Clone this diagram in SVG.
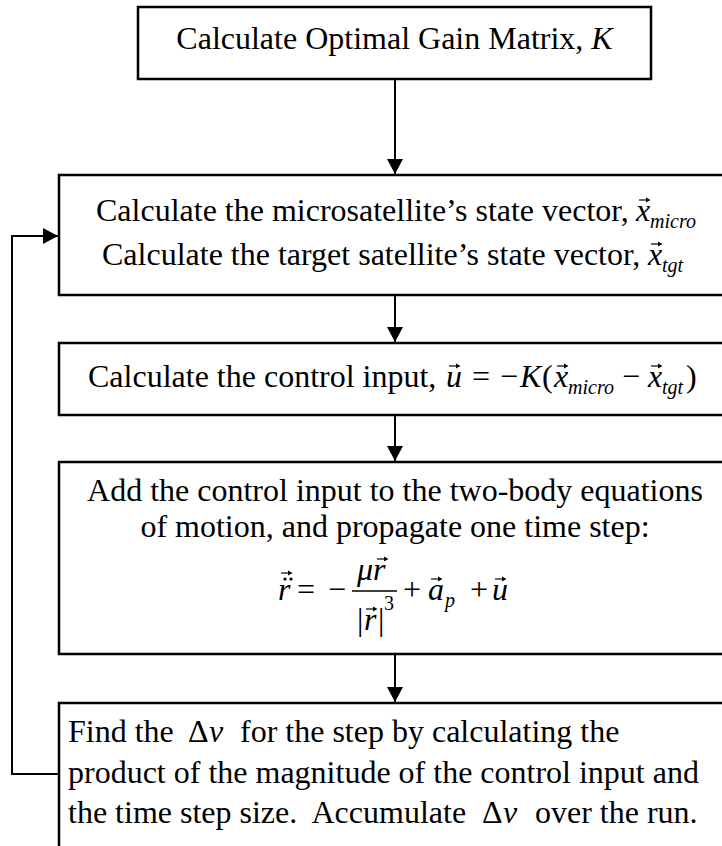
<svg xmlns="http://www.w3.org/2000/svg" xmlns:xlink="http://www.w3.org/1999/xlink" width="722" height="846" viewBox="0 0 722 846">
<style>
.box{fill:#fff;stroke:#000;stroke-width:2.5}
.t{font-family:"Liberation Serif","Times New Roman",serif;font-size:32px;fill:#000;white-space:pre}
.i{font-style:italic}
.s{font-size:20px}
.c{fill:none;stroke:#000;stroke-width:2}
</style>
<defs>
<marker id="ah" markerUnits="userSpaceOnUse" markerWidth="16" markerHeight="16" viewBox="0 0 16 16" refX="15" refY="8" orient="auto">
<path d="M0,0 L15,8 L0,16 z" fill="#000"/>
</marker>
<g id="vec"><path d="M0,0 H9" stroke="#000" stroke-width="1.2" fill="none"/><path d="M7,-2.6 L11.5,0 L7,2.6 z" fill="#000"/></g>
</defs>
<rect width="722" height="846" fill="#fff"/>

<g id="connectors">
<path class="c" d="M395,79 V174" marker-end="url(#ah)"/>
<path class="c" d="M395,295 V342" marker-end="url(#ah)"/>
<path class="c" d="M395,415 V461" marker-end="url(#ah)"/>
<path class="c" d="M395,654 V702" marker-end="url(#ah)"/>
<path class="c" d="M59,774 H12 V236 H58" marker-end="url(#ah)"/>
</g>

<g id="n1">
<rect class="box" x="138" y="7" width="513" height="72"/>
<text class="t" x="394.5" y="49" text-anchor="middle">Calculate Optimal Gain Matrix, <tspan class="i">K</tspan></text>
</g>

<g id="n2">
<rect class="box" x="59" y="175" width="680" height="120"/>
<text class="t" x="96" y="221">Calculate the microsatellite’s state vector,</text>
<text class="t i" x="636" y="221">x</text>
<use href="#vec" x="639" y="200"/>
<text class="t i s" x="650" y="228">micro</text>
<text class="t" x="102" y="265">Calculate the target satellite’s state vector,</text>
<text class="t i" x="648" y="265">x</text>
<use href="#vec" x="651" y="244"/>
<text class="t i s" x="662" y="272">tgt</text>
</g>

<g id="n3">
<rect class="box" x="59" y="343" width="680" height="72"/>
<text class="t" x="88" y="387">Calculate the control input,</text>
<text class="t i" x="446" y="387">u</text>
<use href="#vec" x="449" y="366"/>
<text class="t" x="472" y="387">=</text>
<text class="t" x="500" y="387">−</text>
<text class="t i" x="520" y="387">K</text>
<text class="t" x="542" y="387">(</text>
<text class="t i" x="554" y="387">x</text>
<use href="#vec" x="557" y="366"/>
<text class="t i s" x="568" y="394">micro</text>
<text class="t" x="622" y="387">−</text>
<text class="t i" x="648" y="387">x</text>
<use href="#vec" x="651" y="366"/>
<text class="t i s" x="662" y="394">tgt</text>
<text class="t" x="686" y="387">)</text>
</g>

<g id="n4">
<rect class="box" x="59" y="462" width="680" height="192"/>
<text class="t" x="395" y="501" text-anchor="middle">Add the control input to the two-body equations</text>
<text class="t" x="395" y="537" text-anchor="middle">of motion, and propagate one time step:</text>
<text class="t i" x="278" y="600">r</text>
<circle cx="285" cy="579" r="1.6"/><circle cx="291" cy="579" r="1.6"/>
<use href="#vec" x="281" y="573"/>
<text class="t" x="297" y="600">=</text>
<text class="t" x="328" y="600">−</text>
<text class="t i" x="357" y="580">μr</text>
<use href="#vec" x="377" y="559"/>
<path d="M352,591 H397" stroke="#000" stroke-width="1.5"/>
<text class="t" x="357" y="630">|</text>
<text class="t i" x="364" y="630">r</text>
<use href="#vec" x="366" y="609"/>
<text class="t" x="378" y="630">|</text>
<text class="t s" x="384" y="610">3</text>
<text class="t" x="403" y="600">+</text>
<text class="t i" x="428" y="600">a</text>
<use href="#vec" x="431" y="579"/>
<text class="t i s" x="445" y="607">p</text>
<text class="t" x="470" y="600">+</text>
<text class="t i" x="492" y="600">u</text>
<use href="#vec" x="495" y="579"/>
</g>

<g id="n5">
<rect class="box" x="59" y="703" width="680" height="160"/>
<text class="t" y="742"><tspan x="68">Find the</tspan><tspan x="188">Δ</tspan><tspan x="209" class="i">v</tspan><tspan x="240">for the step by calculating the</tspan></text>
<text class="t" x="68" y="783">product of the magnitude of the control input and</text>
<text class="t" y="823"><tspan x="68">the time step size.  Accumulate</tspan><tspan x="482">Δ</tspan><tspan x="503" class="i">v</tspan><tspan x="535">over the run.</tspan></text>
</g>
</svg>
